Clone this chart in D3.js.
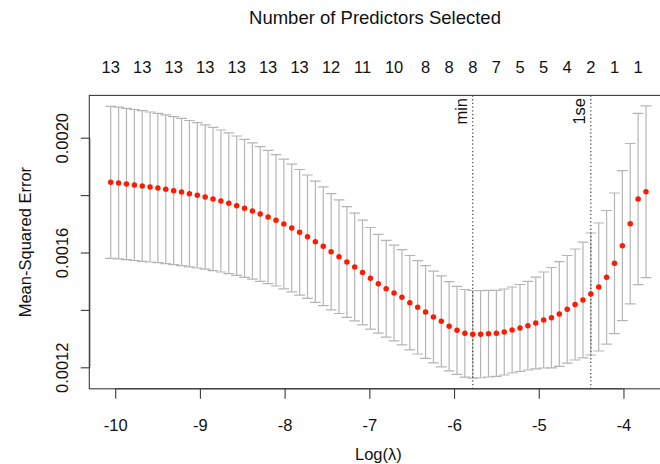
<!DOCTYPE html>
<html>
<head>
<meta charset="utf-8">
<script src="https://cdn.jsdelivr.net/npm/d3@7/dist/d3.min.js"></script>
<style>
  html, body { margin: 0; padding: 0; background: #fff; }
  svg { display: block; }
  text { font-family: "Liberation Sans", Arial, Helvetica, sans-serif; fill: #111; }
</style>
</head>
<body>
<svg id="chart" width="660" height="464"></svg>
<script>
// ---- data ----
const logLambda = [-10.053,-9.960,-9.867,-9.774,-9.681,-9.588,-9.496,-9.403,-9.310,-9.217,
  -9.124,-9.031,-8.938,-8.845,-8.752,-8.659,-8.566,-8.473,-8.380,-8.288,
  -8.195,-8.102,-8.009,-7.916,-7.823,-7.730,-7.637,-7.544,-7.451,-7.358,
  -7.265,-7.173,-7.080,-6.987,-6.894,-6.801,-6.708,-6.615,-6.522,-6.429,
  -6.336,-6.243,-6.150,-6.058,-5.965,-5.872,-5.779,-5.686,-5.593,-5.500,
  -5.407,-5.314,-5.221,-5.128,-5.035,-4.942,-4.850,-4.757,-4.664,-4.571,
  -4.478,-4.385,-4.292,-4.199,-4.106,-4.013,-3.920,-3.827,-3.734];

const cvm = [0.0018446,0.0018422,0.0018387,0.0018352,0.0018317,0.0018282,0.0018247,0.0018202,0.0018153,0.0018108,
  0.0018049,0.0017993,0.0017934,0.0017864,0.0017794,0.0017714,0.0017631,0.0017540,0.0017446,0.0017341,
  0.0017237,0.0017122,0.0016993,0.0016854,0.0016704,0.0016551,0.0016376,0.0016216,0.0016028,0.0015854,
  0.0015669,0.0015495,0.0015303,0.0015101,0.0014913,0.0014739,0.0014589,0.0014439,0.0014251,0.0014091,
  0.0013927,0.0013753,0.0013603,0.0013429,0.0013289,0.0013185,0.0013150,0.0013155,0.0013171,0.0013185,
  0.0013230,0.0013300,0.0013369,0.0013450,0.0013544,0.0013648,0.0013728,0.0013857,0.0014021,0.0014188,
  0.0014345,0.0014554,0.0014798,0.0015136,0.0015624,0.0016237,0.0017004,0.0017864,0.0018118];

const cvsd = [0.0002648,0.0002645,0.0002638,0.0002631,0.0002624,0.0002613,0.0002603,0.0002592,0.0002578,0.0002564,
  0.0002551,0.0002533,0.0002516,0.0002495,0.0002474,0.0002453,0.0002429,0.0002404,0.0002376,0.0002348,
  0.0002321,0.0002289,0.0002258,0.0002223,0.0002188,0.0002150,0.0002111,0.0002070,0.0002024,0.0001979,
  0.0001930,0.0001878,0.0001822,0.0001770,0.0001721,0.0001686,0.0001665,0.0001659,0.0001645,0.0001627,
  0.0001613,0.0001596,0.0001585,0.0001554,0.0001533,0.0001526,0.0001526,0.0001519,0.0001509,0.0001498,
  0.0001498,0.0001498,0.0001516,0.0001544,0.0001596,0.0001672,0.0001749,0.0001822,0.0001875,0.0001934,
  0.0002014,0.0002125,0.0002230,0.0002328,0.0002449,0.0002613,0.0002794,0.0002986,0.0002990];

// number of predictors shown on the top axis, at these lambda indices
const nzIdx    = [0,4,8,12,16,20,24,28,32,36,40,43,46,49,52,55,58,61,64,67];
const nzLabels = ["13","13","13","13","13","13","13","12","11","10","8","8","8","7","5","5","4","2","1","1"];

const xTicks = [-10,-9,-8,-7,-6,-5,-4];
const xTickLabels = ["-10","-9","-8","-7","-6","-5","-4"];
const yTicks = [0.0012,0.0014,0.0016,0.0018,0.0020];
const yTickLabels = ["0.0012","","0.0016","","0.0020"];

const titleText = "Number of Predictors Selected";
const xLabel = "Log(\u03bb)";
const yLabel = "Mean-Squared Error";

// ---- layout ----
const W = 660, H = 464;
const plot = { left: 89.3, right: 667.4, top: 95.4, bottom: 388.8 };
const FS = 16.5;

const svg = d3.select("#chart");
svg.append("rect").attr("width", W).attr("height", H).attr("fill", "#fff");

const upper = cvm.map((m, i) => m + cvsd[i]);
const lower = cvm.map((m, i) => m - cvsd[i]);

// R-style 4% extended x range
const xr = d3.extent(logLambda), xpad = (xr[1] - xr[0]) * 0.04;

const x = d3.scaleLinear().domain([xr[0] - xpad, xr[1] + xpad]).range([plot.left, plot.right]);
const y = d3.scaleLinear().domain([0.0012, 0.0020]).range([367.3, 137.7]);

// min and 1se lambdas
const minI = d3.minIndex(cvm);
const thr = cvm[minI] + cvsd[minI];
let seI = minI;
cvm.forEach((m, i) => { if (m <= thr && logLambda[i] > logLambda[seI]) seI = i; });
const lamMin = logLambda[minI], lam1se = logLambda[seI];

svg.append("clipPath").attr("id", "pc").append("rect")
  .attr("x", plot.left).attr("y", plot.top)
  .attr("width", plot.right - plot.left).attr("height", plot.bottom - plot.top);

const g = svg.append("g").attr("clip-path", "url(#pc)");

// error bars
const barw = (xr[1] - xr[0]) * 0.01;
const barCol = "#b5b5b5";
const eb = g.append("g").attr("stroke", barCol).attr("stroke-width", 1.2).attr("fill", "none");
logLambda.forEach((l, i) => {
  eb.append("line").attr("x1", x(l)).attr("x2", x(l)).attr("y1", y(upper[i])).attr("y2", y(lower[i]));
  eb.append("line").attr("x1", x(l - barw)).attr("x2", x(l + barw)).attr("y1", y(upper[i])).attr("y2", y(upper[i]));
  eb.append("line").attr("x1", x(l - barw)).attr("x2", x(l + barw)).attr("y1", y(lower[i])).attr("y2", y(lower[i]));
});

// vertical dotted lines
[lamMin, lam1se].forEach(v => {
  g.append("line").attr("x1", x(v)).attr("x2", x(v))
    .attr("y1", plot.top).attr("y2", plot.bottom)
    .attr("stroke", "#333").attr("stroke-width", 1.1).attr("stroke-dasharray", "1.3,2.4");
});

// points
g.append("g").selectAll("circle").data(logLambda).join("circle")
  .attr("cx", d => x(d)).attr("cy", (d, i) => y(cvm[i])).attr("r", 2.75)
  .attr("fill", "#ff1a00");

// min / 1se labels
[["min", lamMin], ["1se", lam1se]].forEach(([t, v]) => {
  svg.append("text").attr("transform", `translate(${x(v) - 6},${plot.top + 2.6}) rotate(-90)`)
    .attr("text-anchor", "end").attr("font-size", FS).text(t);
});

// box
svg.append("rect").attr("x", plot.left).attr("y", plot.top)
  .attr("width", plot.right - plot.left).attr("height", plot.bottom - plot.top)
  .attr("fill", "none").attr("stroke", "#3a3a3a").attr("stroke-width", 1.1);

// bottom axis
const xAxis = d3.axisBottom(x).tickValues(xTicks).tickFormat((d, i) => xTickLabels[i])
  .tickSize(10).tickSizeOuter(0).tickPadding(0);
const gx = svg.append("g").attr("transform", `translate(0,${plot.bottom})`).call(xAxis);
gx.select(".domain").attr("stroke", "#3a3a3a").attr("d", `M${x(xTicks[0])},0H${x(xTicks[xTicks.length-1])}`);
gx.selectAll(".tick line").attr("stroke", "#3a3a3a").attr("stroke-width", 1.1);
gx.selectAll(".tick text").attr("font-size", FS).attr("fill", "#111")
  .attr("dy", null).attr("y", 42);

// left axis
const yAxis = d3.axisLeft(y).tickValues(yTicks).tickFormat((d, i) => yTickLabels[i])
  .tickSize(8.5).tickSizeOuter(0);
const gy = svg.append("g").attr("transform", `translate(${plot.left},0)`).call(yAxis);
gy.select(".domain").attr("stroke", "#3a3a3a");
gy.selectAll(".tick line").attr("stroke", "#3a3a3a").attr("stroke-width", 1.1);
gy.selectAll(".tick text").attr("font-size", FS).attr("fill", "#111")
  .attr("x", null).attr("dy", null).attr("text-anchor", "middle")
  .attr("transform", "translate(-21.5,0) rotate(-90)");

// top axis labels (no ticks)
svg.append("g").selectAll("text").data(nzIdx).join("text")
  .attr("x", d => x(logLambda[d])).attr("y", 73)
  .attr("text-anchor", "middle").attr("font-size", FS)
  .text((d, i) => nzLabels[i]);

// titles
svg.append("text").attr("x", 375).attr("y", 24).attr("text-anchor", "middle")
  .attr("font-size", 18.5).text(titleText);
svg.append("text").attr("x", (plot.left + plot.right) / 2).attr("y", 460).attr("text-anchor", "middle")
  .attr("font-size", FS).text(xLabel);
svg.append("text").attr("transform", `translate(30.5,${(plot.top + plot.bottom) / 2}) rotate(-90)`)
  .attr("text-anchor", "middle").attr("font-size", FS).text(yLabel);
</script>
</body>
</html>
